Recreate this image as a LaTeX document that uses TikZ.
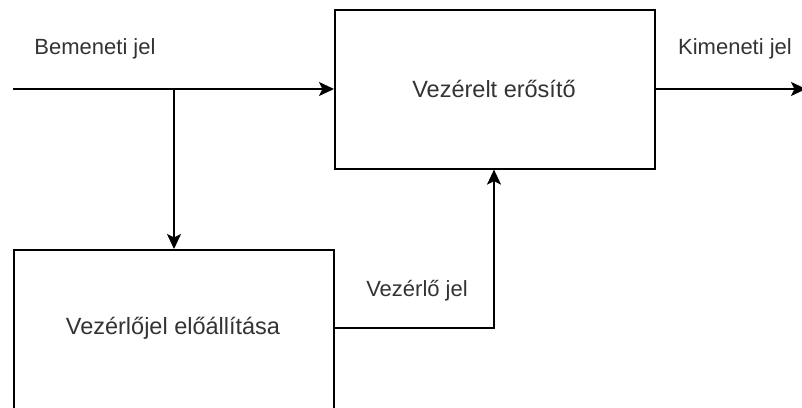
\documentclass[tikz,border=0pt]{standalone}
\usepackage{fontspec}
\setmainfont{Liberation Sans}
\usetikzlibrary{arrows.meta}
\definecolor{txt}{HTML}{333333}
\begin{document}
\begin{tikzpicture}[x=1pt,y=-1pt,
  blockbox/.style={draw, line width=1.6pt, minimum width=320pt, anchor=north west, inner sep=0pt},
  lbl/.style={text=txt, font=\fontsize{22}{26}\selectfont},
  boxtext/.style={text=txt, font=\fontsize{23.5}{28}\selectfont},
  conn/.style={line width=1.6pt, -{Stealth[length=15pt,width=14pt,inset=3.5pt]}},
  plain/.style={line width=1.6pt}]
\useasboundingbox (0,0) rectangle (802,407);
\clip (0,0) rectangle (802,407);
\node[blockbox, minimum height=159pt] (amp) at (334,9) {};
\node[blockbox, minimum height=200pt] (gen) at (13,249) {};
\node[boxtext] (ampt) at (494,89) {Vezérelt erősítő};
\node[boxtext] (gent) at (173,328) {Vezérlőjel előállítása};
\coordinate (in) at (13,89);
\coordinate (junc) at (174,89);
\coordinate (out) at (806,89);
\coordinate (ctl) at (494,328);
\draw[conn] (in) -- (amp.west |- in);
\draw[conn] (junc) -- (junc |- gen.north);
\draw[conn] (amp.east |- out) -- (out);
\draw[conn] (gen.east |- ctl) -- (ctl) -- (ctl |- amp.south);
\node[lbl] (inl) at (95,49) {Bemeneti jel};
\node[lbl] (outl) at (735,49) {Kimeneti jel};
\node[lbl] (ctll) at (417,291) {Vezérlő jel};
\end{tikzpicture}
\end{document}
